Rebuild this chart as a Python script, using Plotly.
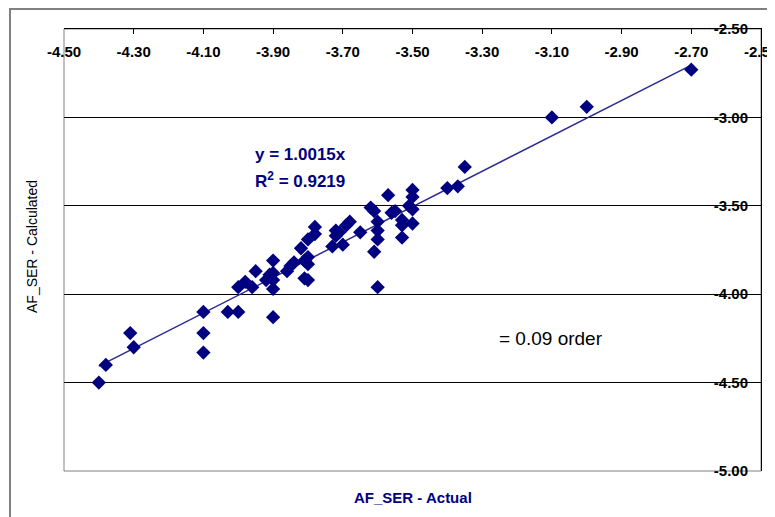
import plotly.graph_objects as go

# Data
actual = [-4.40, -4.38, -4.31, -4.30, -4.10, -4.10, -4.10, -4.03, -4.00, -3.90,
          -4.00, -3.98, -3.96, -3.95, -3.90, -3.92, -3.91, -3.90, -3.90, -3.90,
          -3.86, -3.85, -3.84, -3.82, -3.80, -3.78, -3.78, -3.80, -3.81, -3.80,
          -3.80, -3.81, -3.73, -3.72, -3.71, -3.69, -3.70, -3.72, -3.68, -3.65,
          -3.62, -3.61, -3.60, -3.60, -3.60, -3.61, -3.60, -3.57, -3.56, -3.55,
          -3.53, -3.53, -3.53, -3.50, -3.50, -3.51, -3.50, -3.50, -3.40, -3.37,
          -3.35, -3.10, -3.00, -2.70]
calculated = [-4.50, -4.40, -4.22, -4.30, -4.10, -4.22, -4.33, -4.10, -4.10, -4.13,
              -3.96, -3.93, -3.96, -3.87, -3.81, -3.92, -3.89, -3.88, -3.92, -3.97,
              -3.87, -3.84, -3.82, -3.74, -3.69, -3.62, -3.66, -3.79, -3.81, -3.83,
              -3.92, -3.91, -3.73, -3.67, -3.65, -3.61, -3.72, -3.64, -3.59, -3.65,
              -3.51, -3.53, -3.59, -3.64, -3.69, -3.76, -3.96, -3.44, -3.54, -3.53,
              -3.58, -3.61, -3.68, -3.41, -3.45, -3.50, -3.52, -3.60, -3.40, -3.39,
              -3.28, -3.00, -2.94, -2.73]
slope = 1.0015
r_squared = 0.9219
x_ticks = [-4.50, -4.30, -4.10, -3.90, -3.70, -3.50, -3.30, -3.10, -2.90, -2.70, -2.50]
y_ticks = [-2.50, -3.00, -3.50, -4.00, -4.50, -5.00]

NAVY = "#000080"
trend_x = [min(actual), max(actual)]
trend_y = [slope * v for v in trend_x]

fig = go.Figure()
fig.add_trace(go.Scatter(x=trend_x, y=trend_y, mode="lines",
                         line=dict(color="#2b2b8f", width=1.5), hoverinfo="skip",
                         showlegend=False))
fig.add_trace(go.Scatter(x=actual, y=calculated, mode="markers",
                         marker=dict(symbol="diamond", size=11, color=NAVY,
                                     line=dict(width=0)),
                         showlegend=False))

font_tick = dict(family="Liberation Sans, Arial, sans-serif", size=15, color="black")

# page body adds an 8px offset; plot area targets x 64..761, y 29..471 on screen
fig.update_layout(
    width=767, height=509,
    margin=dict(l=56, r=14, t=21, b=46, autoexpand=False),
    paper_bgcolor="white", plot_bgcolor="white",
    font=dict(family="Liberation Sans, Arial, sans-serif"),
    xaxis=dict(range=[-4.5, -2.5], side="top", tickvals=x_ticks,
               ticktext=["<b>%.2f</b>" % v for v in x_ticks],
               ticks="inside", ticklen=5, tickcolor="black", tickwidth=1,
               ticklabelposition="inside", ticklabeloverflow="allow",
               ticklabelstandoff=12,
               showline=True, linecolor="black", linewidth=1,
               showgrid=False, zeroline=False, tickfont=font_tick),
    yaxis=dict(range=[-5, -2.5], side="right", tickvals=y_ticks,
               ticktext=["<b>%.2f</b>" % v for v in y_ticks],
               ticks="inside", ticklen=8, tickcolor="black", tickwidth=1,
               ticklabelposition="inside", ticklabeloverflow="allow",
               ticklabelstandoff=5,
               showline=True, linecolor="black", linewidth=1,
               showgrid=True, gridcolor="black", gridwidth=1,
               zeroline=False, tickfont=font_tick),
)

# plot-area frame (grey left / bottom) and outer chart border
fig.add_shape(type="rect", xref="paper", yref="paper", x0=0, x1=1, y0=0, y1=1,
              line=dict(color="#808080", width=1), layer="below")
fig.add_shape(type="rect", xref="paper", yref="paper",
              x0=(10 - 64) / 697, x1=(790 - 64) / 697,
              y0=(471 - 530) / 442, y1=(471 - 9) / 442,
              line=dict(color="#808080", width=2), layer="below")

fig.add_annotation(xref="paper", yref="paper", x=(413 - 64) / 697, y=(471 - 497) / 442,
                   text="<b>AF_SER - Actual</b>", showarrow=False,
                   font=dict(size=15, color=NAVY), xanchor="center", yanchor="middle")
fig.add_annotation(xref="paper", yref="paper", x=(32 - 64) / 697, y=(471 - 247) / 442,
                   text="AF_SER - Calculated", showarrow=False, textangle=-90,
                   font=dict(size=14, color="black"), xanchor="center", yanchor="middle")
fig.add_annotation(xref="paper", yref="paper", x=(253 - 64) / 697, y=(471 - 154) / 442,
                   text="<b>y = %.4fx</b>" % slope, showarrow=False,
                   font=dict(size=17, color=NAVY), xanchor="left", yanchor="middle")
fig.add_annotation(xref="paper", yref="paper", x=(253 - 64) / 697, y=(471 - 180) / 442,
                   text="<b>R<sup>2</sup> = %.4f</b>" % r_squared, showarrow=False,
                   font=dict(size=17, color=NAVY), xanchor="left", yanchor="middle")
fig.add_annotation(xref="paper", yref="paper", x=(497 - 64) / 697, y=(471 - 338) / 442,
                   text="= 0.09 order", showarrow=False,
                   font=dict(size=19, color="black"), xanchor="left", yanchor="middle")

fig.write_html("out.html")
